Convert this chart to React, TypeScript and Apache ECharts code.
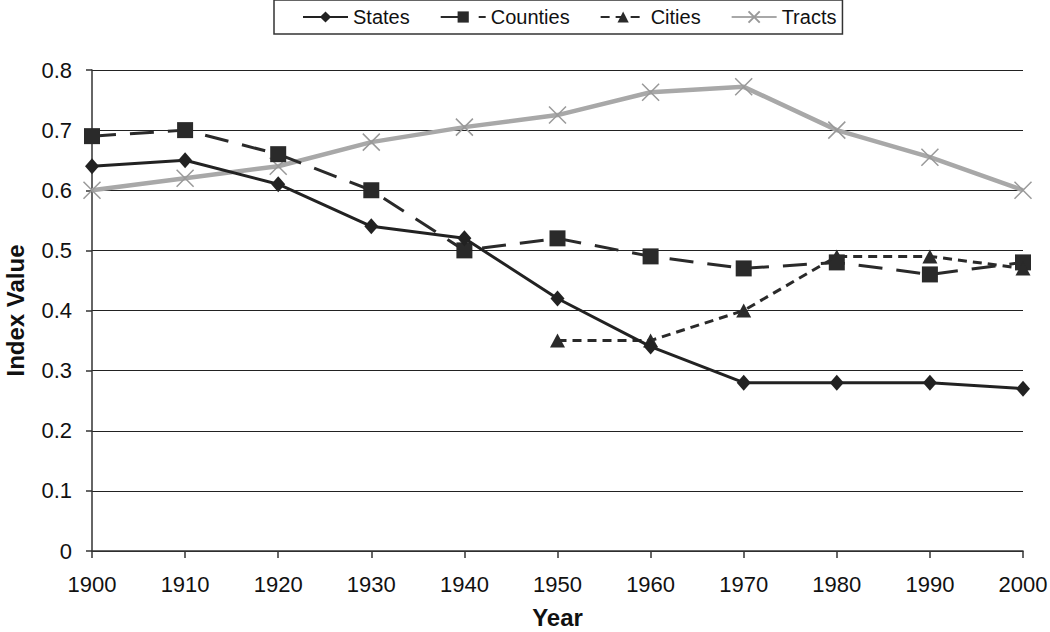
import React, { useEffect, useRef } from "react";
import * as echarts from "echarts";

const years = ["1900", "1910", "1920", "1930", "1940", "1950", "1960", "1970", "1980", "1990", "2000"];
const states = [0.64, 0.65, 0.61, 0.54, 0.52, 0.42, 0.34, 0.28, 0.28, 0.28, 0.27];
const counties = [0.69, 0.70, 0.66, 0.60, 0.50, 0.52, 0.49, 0.47, 0.48, 0.46, 0.48];
const cities = [null, null, null, null, null, 0.35, 0.35, 0.40, 0.49, 0.49, 0.47];
const tracts = [0.60, 0.62, 0.64, 0.68, 0.705, 0.725, 0.763, 0.772, 0.70, 0.655, 0.60];

const FONT = "Liberation Sans, Arial, sans-serif";
const X_PATH = "path://M0,0L10,10M10,0L0,10";

export default function App() {
  const ref = useRef<HTMLDivElement>(null);
  useEffect(() => {
    const chart = echarts.init(ref.current!, null, { renderer: "svg" });
    chart.setOption({
      animation: false,
      backgroundColor: "#fff",
      textStyle: { fontFamily: FONT },
      legend: {
        top: 0,
        left: 274,
        padding: [7, 6, 7, 28],
        borderColor: "#333",
        borderWidth: 1.5,
        itemWidth: 45,
        itemHeight: 14,
        itemGap: 30,
        textStyle: { fontFamily: FONT, fontSize: 20, color: "#111" },
        data: ["States", "Counties", "Cities", "Tracts"],
      },
      grid: {
        left: 92,
        right: 27,
        top: 70,
        bottom: 81,
        containLabel: false,
        outerBoundsMode: "none",
      },
      xAxis: {
        type: "category",
        data: years,
        boundaryGap: false,
        name: "Year",
        nameLocation: "middle",
        nameGap: 54,
        nameMoveOverlap: false,
        nameTextStyle: { fontFamily: FONT, fontSize: 24, fontWeight: "bold", color: "#111" },
        axisLine: { lineStyle: { color: "#333", width: 1.5 } },
        axisTick: { show: true, inside: false, length: 7, lineStyle: { color: "#333", width: 1.5 } },
        axisLabel: { fontSize: 22, color: "#111", margin: 22, fontFamily: FONT },
        splitLine: { show: false },
      },
      yAxis: {
        type: "value",
        min: 0,
        max: 0.8,
        interval: 0.1,
        name: "Index Value",
        nameLocation: "middle",
        nameGap: 65,
        nameMoveOverlap: false,
        nameRotate: 90,
        nameTextStyle: { fontFamily: FONT, fontSize: 24, fontWeight: "bold", color: "#111" },
        axisLine: { show: true, lineStyle: { color: "#333", width: 1.5 } },
        axisTick: { show: true, inside: false, length: 6, lineStyle: { color: "#333", width: 1.5 } },
        axisLabel: { fontSize: 22, color: "#111", margin: 20, fontFamily: FONT },
        splitLine: { show: true, lineStyle: { color: "#222", width: 1.2 } },
      },
      series: [
        {
          name: "States",
          type: "line",
          data: states,
          symbol: "diamond",
          symbolSize: [14, 16],
          lineStyle: { color: "#222", width: 3 },
          itemStyle: { color: "#222" },
          z: 4,
        },
        {
          name: "Counties",
          type: "line",
          data: counties,
          symbol: "rect",
          symbolSize: 16,
          lineStyle: { color: "#2a2a2a", width: 3, type: [24, 14] },
          itemStyle: { color: "#2a2a2a" },
          z: 3,
        },
        {
          name: "Cities",
          type: "line",
          data: cities,
          connectNulls: false,
          symbol: "triangle",
          symbolSize: [15, 14],
          lineStyle: { color: "#2a2a2a", width: 3, type: [9, 6] },
          itemStyle: { color: "#2a2a2a" },
          z: 3,
        },
        {
          name: "Tracts",
          type: "line",
          data: tracts,
          symbol: X_PATH,
          symbolSize: 17,
          lineStyle: { color: "#a8a8a8", width: 4.5 },
          itemStyle: { color: "none", borderColor: "#999", borderWidth: 1.5 },
          z: 2,
        },
      ],
    });
    return () => chart.dispose();
  }, []);
  return (
    <div
      ref={ref}
      style={{ position: "fixed", left: 0, top: 0, width: 1050, height: 632 }}
    />
  );
}
